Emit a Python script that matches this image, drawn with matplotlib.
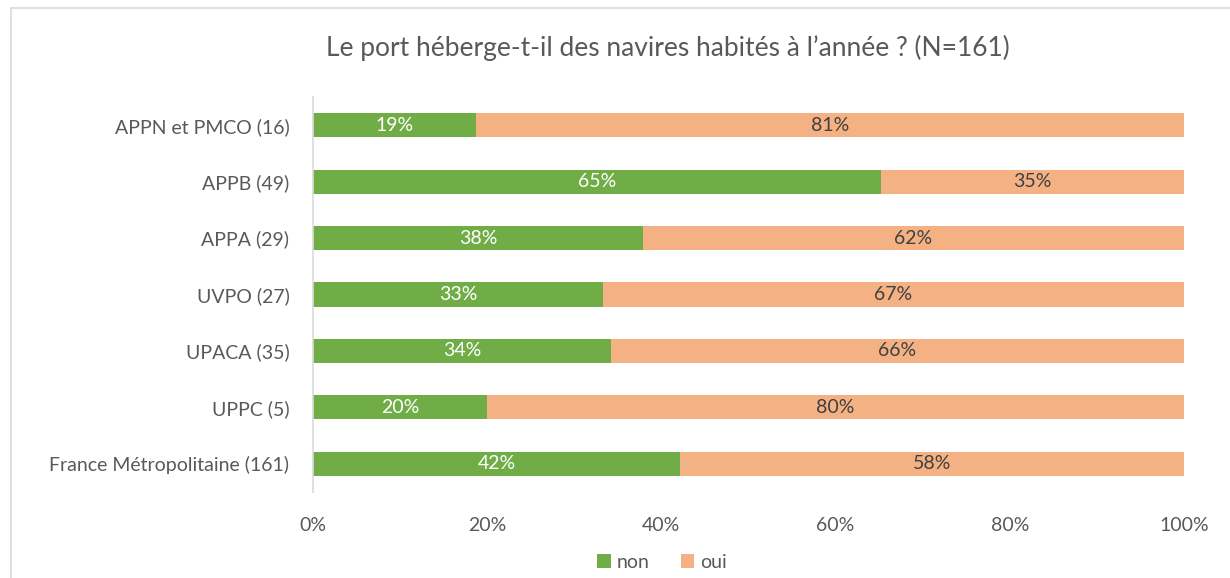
import matplotlib
matplotlib.use("Agg")
import matplotlib.pyplot as plt
from matplotlib.patches import Rectangle
from matplotlib.ticker import PercentFormatter

plt.rcParams['font.family'] = ['Lato', 'DejaVu Sans']

categories = ["APPN et PMCO (16)", "APPB (49)", "APPA (29)", "UVPO (27)",
              "UPACA (35)", "UPPC (5)", "France Métropolitaine (161)"]
non = [18.7, 65.2, 37.9, 33.3, 34.2, 20.0, 42.1]
oui = [81.3, 34.8, 62.1, 66.7, 65.8, 80.0, 57.9]
series_names = ["non", "oui"]
title = "Le port héberge-t-il des navires habités à l’année ? (N=161)"

green = "#70AD47"
orange = "#F4B183"
grey = "#595959"

fig = plt.figure(figsize=(12.30, 5.78), dpi=100)
fig.patches.append(Rectangle((11/1230, -0.01), 1.02, 1 - 8/578 + 0.01,
                             transform=fig.transFigure, fill=False,
                             edgecolor="#D9D9D9", linewidth=1.2))
ax = fig.add_axes([313/1230, 1 - 492/578, (1184 - 313)/1230, (492 - 97)/578])

y = list(range(len(categories)))
b1 = ax.barh(y, non, height=0.43, color=green, label=series_names[0])
b2 = ax.barh(y, oui, left=non, height=0.43, color=orange, label=series_names[1])

for rect, v in zip(b1, non):
    ax.text(rect.get_x() + rect.get_width()/2, rect.get_y() + rect.get_height()/2,
            f"{round(v)}%", ha="center", va="center", color="white", fontsize=14)
for rect, v in zip(b2, oui):
    ax.text(rect.get_x() + rect.get_width()/2, rect.get_y() + rect.get_height()/2,
            f"{round(v)}%", ha="center", va="center", color="#404040", fontsize=14)

ax.set_ylim(len(categories) - 0.5, -0.5)
ax.set_xlim(0, 100)
ax.set_yticks(y)
ax.set_yticklabels(categories)
ax.set_xticks([0, 20, 40, 60, 80, 100])
ax.xaxis.set_major_formatter(PercentFormatter(decimals=0))
ax.tick_params(axis="both", length=0, colors=grey, labelsize=14)
ax.tick_params(axis="x", pad=18)
ax.tick_params(axis="y", pad=17)
for s in ["top", "right", "bottom"]:
    ax.spines[s].set_visible(False)
ax.spines["left"].set_color("#D9D9D9")
ax.spines["left"].set_linewidth(1.2)

fig.text(668/1230, 1 - 48/578, title, ha="center", va="center",
         fontsize=19, color=grey)

fig.legend(handles=[b1, b2], labels=series_names, loc="center",
           bbox_to_anchor=(662/1230, 1 - 562/578), ncol=2, frameon=False,
           fontsize=14, labelcolor=grey, handlelength=0.7, handleheight=0.7,
           handletextpad=0.3, columnspacing=1.6)

fig.savefig("out.png", dpi=100)
